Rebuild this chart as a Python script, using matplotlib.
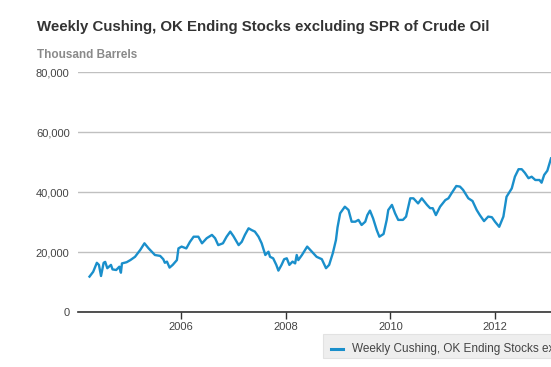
import matplotlib
matplotlib.use("Agg")
import matplotlib.pyplot as plt
from matplotlib.patches import Rectangle
from matplotlib.ticker import FuncFormatter

plt.rcParams["font.family"] = ["Liberation Sans", "DejaVu Sans"]

# decimal year, thousand barrels
years = [2004.25, 2004.32, 2004.39, 2004.43, 2004.47, 2004.52, 2004.55, 2004.59, 2004.66, 2004.69,
         2004.76, 2004.82, 2004.85, 2004.87, 2004.96, 2005.03, 2005.12, 2005.22, 2005.30, 2005.38,
         2005.44, 2005.50, 2005.60, 2005.66, 2005.69, 2005.73, 2005.78, 2005.84, 2005.92, 2005.95,
         2006.01, 2006.10, 2006.17, 2006.24, 2006.33, 2006.40, 2006.49, 2006.59, 2006.65, 2006.71,
         2006.80, 2006.87, 2006.94, 2007.00, 2007.10, 2007.16, 2007.22, 2007.29, 2007.35, 2007.41,
         2007.48, 2007.54, 2007.61, 2007.67, 2007.70, 2007.76, 2007.82, 2007.86, 2007.92, 2007.97,
         2008.02, 2008.07, 2008.13, 2008.18, 2008.21, 2008.24, 2008.31, 2008.41, 2008.50, 2008.59,
         2008.69, 2008.77, 2008.83, 2008.90, 2008.96, 2008.99, 2009.04, 2009.13, 2009.20, 2009.26,
         2009.33, 2009.39, 2009.45, 2009.52, 2009.56, 2009.61, 2009.67, 2009.74, 2009.79, 2009.87,
         2009.93, 2009.96, 2010.03, 2010.09, 2010.15, 2010.24, 2010.30, 2010.38, 2010.44, 2010.53,
         2010.60, 2010.70, 2010.76, 2010.81, 2010.87, 2010.95, 2011.05, 2011.11, 2011.17, 2011.26,
         2011.33, 2011.39, 2011.49, 2011.57, 2011.65, 2011.71, 2011.79, 2011.87, 2011.94, 2012.00,
         2012.08, 2012.16, 2012.22, 2012.32, 2012.38, 2012.45, 2012.51, 2012.57, 2012.64, 2012.70,
         2012.77, 2012.85, 2012.89, 2012.94, 2013.00, 2013.07]
stocks = [11.8, 13.4, 16.4, 15.7, 12.0, 16.4, 16.7, 14.6, 15.7, 14.2,
          14.0, 15.1, 13.1, 16.2, 16.6, 17.3, 18.4, 20.7, 22.9, 21.2,
          20.1, 19.0, 18.7, 17.6, 16.4, 16.8, 14.8, 15.7, 17.3, 21.2,
          21.8, 21.2, 23.4, 25.1, 25.1, 22.9, 24.6, 25.7, 24.6, 22.3,
          22.9, 25.1, 26.8, 25.3, 22.3, 23.4, 25.7, 27.9, 27.3, 26.8,
          25.1, 22.9, 19.0, 20.1, 18.4, 17.9, 15.7, 13.8, 15.7, 17.6,
          17.9, 15.7, 16.8, 16.2, 19.0, 17.3, 19.0, 21.8, 20.1, 18.4,
          17.6, 14.6, 15.7, 19.6, 24.0, 28.2, 32.9, 35.1, 34.0, 30.1,
          30.1, 30.7, 29.0, 30.1, 32.3, 33.8, 31.2, 27.3, 25.1, 26.0,
          30.7, 34.0, 35.7, 32.9, 30.7, 30.7, 31.8, 37.9, 37.9, 36.2,
          37.9, 35.7, 34.6, 34.6, 32.3, 35.1, 37.3, 37.9, 39.6, 42.0,
          41.8, 40.7, 37.9, 37.0, 34.0, 32.3, 30.3, 31.8, 31.6, 30.1,
          28.4, 31.8, 38.4, 41.2, 45.1, 47.6, 47.6, 46.4, 44.6, 45.1,
          44.0, 44.0, 43.1, 45.7, 47.1, 51.2]
stocks = [v * 1000 for v in stocks]

year_ticks = [2006, 2008, 2010, 2012]
value_ticks = [0, 20000, 40000, 60000, 80000]

title = "Weekly Cushing, OK Ending Stocks excluding SPR of Crude Oil"
line_color = "#1a8fcb"

fig = plt.figure(figsize=(5.51, 3.67), dpi=100)
ax = fig.add_axes([78 / 551, 1 - 312 / 367, 1 - 78 / 551, 240 / 367])

ax.plot(years, stocks, color=line_color, linewidth=1.7, solid_joinstyle="round")

ax.set_xlim(2004.03, 2013.07)
ax.set_ylim(0, 80000)
ax.set_xticks(year_ticks)
ax.set_xticklabels([str(y) for y in year_ticks])
ax.set_yticks(value_ticks)
ax.yaxis.set_major_formatter(FuncFormatter(lambda v, p: f"{int(v):,}"))

ax.grid(axis="y", color="#c0c0c0", linewidth=1)
ax.set_axisbelow(True)
for s in ["top", "right", "left"]:
    ax.spines[s].set_visible(False)
ax.spines["bottom"].set_color("#333333")
ax.spines["bottom"].set_linewidth(1.2)
ax.tick_params(axis="y", length=0, pad=6, labelsize=8, labelcolor="#444444")
ax.tick_params(axis="x", length=5, width=1, color="#333333", pad=2,
               labelsize=8, labelcolor="#444444")

fig.text(37 / 551, 1 - 27 / 367, title, fontsize=10.8, fontweight="bold",
         color="#333333", va="center", ha="left")
fig.text(37 / 551, 1 - 55 / 367, "Thousand Barrels", fontsize=8.5,
         fontweight="bold", color="#8a8a8a", va="center", ha="left")

# legend box, cut off at the right edge like the original
fig.patches.append(Rectangle((323 / 551, 1 - 358 / 367), 240 / 551, 24 / 367,
                             transform=fig.transFigure, facecolor="#eeeeee",
                             edgecolor="#e2e2e2", linewidth=0.8))
fig.lines.append(plt.Line2D([331 / 551, 343 / 551], [1 - 349 / 367, 1 - 349 / 367],
                            transform=fig.transFigure, color=line_color, linewidth=2.2))
fig.text(352 / 551, 1 - 349 / 367, title, fontsize=8.5, color="#444444",
         va="center", ha="left")

fig.savefig("out.png", dpi=100)
